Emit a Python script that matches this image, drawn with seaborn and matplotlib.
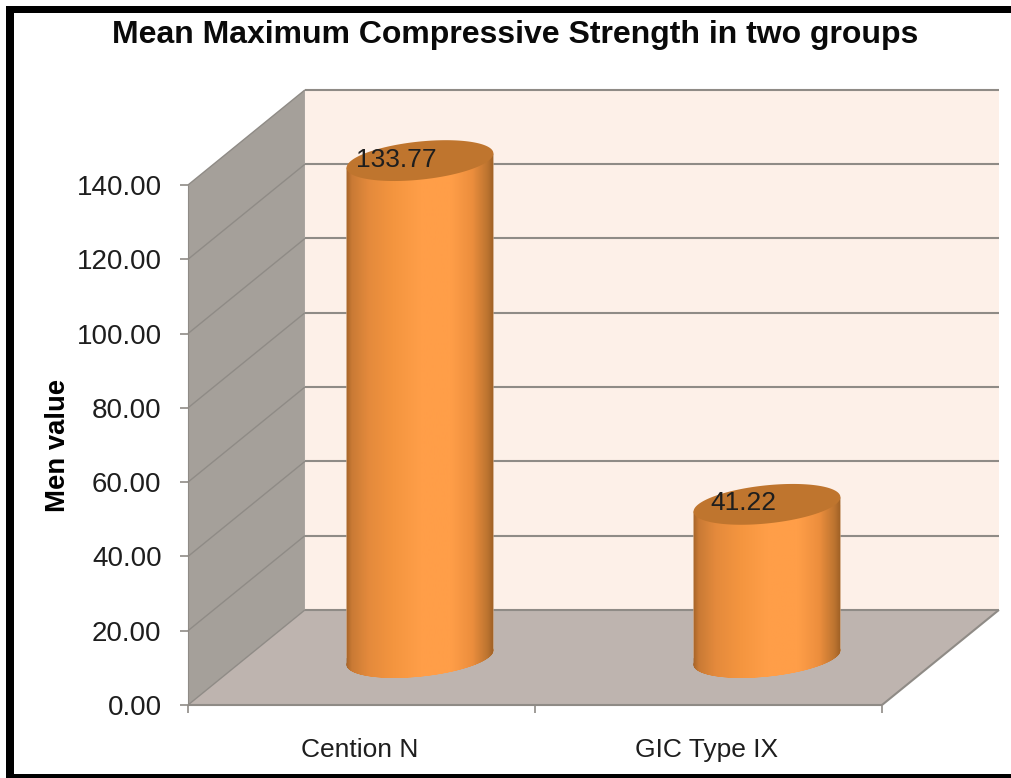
import numpy as np
import pandas as pd
import matplotlib
matplotlib.use("Agg")
import matplotlib.pyplot as plt
from matplotlib.colors import LinearSegmentedColormap
from matplotlib.patches import Polygon, Rectangle
from matplotlib.path import Path
from matplotlib.transforms import Affine2D, IdentityTransform
import seaborn as sns

# Chart content
groups = ["Cention N", "GIC Type IX"]
mean_strength = [133.77, 41.22]
value_labels = ["133.77", "41.22"]
y_ticks = [0, 20, 40, 60, 80, 100, 120, 140]
title_text = "Mean Maximum Compressive Strength in two groups"
y_label_text = "Men value"

# Colours
BACK_WALL = "#FDF0E8"
SIDE_WALL = "#A5A09A"
FLOOR = "#BEB4AF"
GRID = "#8F8B86"
CAP = "#BF752E"
TEXT = "#1E1E1E"
BODY_STOPS = ["#9A5C24", "#C97A35", "#E48A3C", "#F4953F", "#FF9E48", "#FF9E48",
              "#EC8E3D", "#BC7430", "#8F551E"]
BODY_POS = [0.0, 0.05, 0.16, 0.32, 0.5, 0.7, 0.84, 0.94, 1.0]

# Layout of the pseudo-3D box
DEPTH_X = 0.337     # category units from front edge to back wall
DEPTH_Y = 25.6      # value units from front edge to back wall
BAR_WIDTH = 0.4236
TILT = np.deg2rad(6)
ELL_A, ELL_B = 73.8, 19.0

sns.set_theme(style="white")
plt.rcParams["font.family"] = ["Liberation Sans", "DejaVu Sans"]

W, H = 1011, 778
fig = plt.figure(figsize=(W / 100, H / 100), dpi=100, facecolor="white")
ax = fig.add_axes([188 / W, (H - 705) / H, 694 / W, 520 / H])

frame = [Rectangle((5.5 / W, (H - 778) / H), 8.5 / W, 772 / H),
         Rectangle((5.5 / W, (H - 13) / H), (W - 5.5) / W, 7 / H),
         Rectangle((5.5 / W, 0), (W - 5.5) / W, 4 / H)]
for rect in frame:
    rect.set(transform=fig.transFigure, facecolor="black", edgecolor="none")
    fig.add_artist(rect)

frame_df = pd.DataFrame({"group": groups, "value": mean_strength})
sns.barplot(data=frame_df, x="group", y="value", width=BAR_WIDTH, color="#F4953F",
            errorbar=None, saturation=1, ax=ax, zorder=4)

x0, x1 = -0.5, 1.5
y0, y1 = min(y_ticks), max(y_ticks)
ax.set_xlim(x0, x1)
ax.set_ylim(y0, y1)
ax.patch.set_visible(False)
sns.despine(ax=ax, top=True, right=True, left=True, bottom=True)

# Box walls and floor
ax.add_patch(Polygon([(x0 + DEPTH_X, y0 + DEPTH_Y), (x1 + DEPTH_X, y0 + DEPTH_Y),
                      (x1 + DEPTH_X, y1 + DEPTH_Y), (x0 + DEPTH_X, y1 + DEPTH_Y)],
                     facecolor=BACK_WALL, edgecolor="none", clip_on=False, zorder=1))
ax.add_patch(Polygon([(x0, y0), (x0 + DEPTH_X, y0 + DEPTH_Y),
                      (x0 + DEPTH_X, y1 + DEPTH_Y), (x0, y1)],
                     facecolor=SIDE_WALL, edgecolor="none", clip_on=False, zorder=1))
ax.add_patch(Polygon([(x0, y0), (x1, y0), (x1 + DEPTH_X, y0 + DEPTH_Y),
                      (x0 + DEPTH_X, y0 + DEPTH_Y)],
                     facecolor=FLOOR, edgecolor="none", clip_on=False, zorder=1))

# Gridlines run along the back wall and down the side wall
line_kw = dict(color=GRID, clip_on=False, zorder=2, solid_capstyle="butt")
for tick in y_ticks:
    ax.plot([x0 + DEPTH_X, x1 + DEPTH_X], [tick + DEPTH_Y] * 2, lw=1.5, **line_kw)
    ax.plot([x0, x0 + DEPTH_X], [tick, tick + DEPTH_Y], lw=1.0, **line_kw)
ax.plot([x1, x1 + DEPTH_X], [y0, y0 + DEPTH_Y], lw=1.5, **line_kw)
ax.plot([x0, x1], [y0, y0], lw=1.5, **line_kw)
ax.plot([x0, x0], [y0, y1], lw=0.8, **line_kw)


def ellipse_points(center, n=180):
    t = np.linspace(0, 2 * np.pi, n, endpoint=False)
    ex = ELL_A * np.cos(t) * np.cos(TILT) - ELL_B * np.sin(t) * np.sin(TILT)
    ey = ELL_A * np.cos(t) * np.sin(TILT) + ELL_B * np.sin(t) * np.cos(TILT)
    return np.column_stack([center[0] + ex, center[1] + ey])


body_cmap = LinearSegmentedColormap.from_list("cyl", list(zip(BODY_POS, BODY_STOPS)))
shift = Affine2D().translate(*(ax.transData.transform((DEPTH_X / 2, DEPTH_Y / 2))
                               - ax.transData.transform((0, 0))))
gradient = np.linspace(0, 1, 256)[None, :]
edge_pad = 0.008    # image overhang so its faded border stays outside the clip

for bar, value, label in zip(ax.patches, mean_strength, value_labels):
    bar.set_transform(ax.transData + shift)
    left, right = bar.get_x(), bar.get_x() + bar.get_width()
    mid = (left + right) / 2
    top_c = ax.transData.transform((mid + DEPTH_X / 2, value + DEPTH_Y / 2))
    base_c = ax.transData.transform((mid + DEPTH_X / 2, DEPTH_Y / 2))

    top_pts = ellipse_points(top_c)
    base_pts = ellipse_points(base_c)
    i_l, i_r = base_pts[:, 0].argmin(), base_pts[:, 0].argmax()
    # lower half of the base ellipse, left extreme round to right extreme
    idx = np.arange(i_l, i_r + len(base_pts) + 1) % len(base_pts)
    arc = base_pts[idx]
    body = np.vstack([top_pts[i_r], top_c, top_pts[i_l], arc, top_pts[i_r]])
    body_path = Path(body, closed=True)

    bar.set_clip_box(fig.bbox)
    bar.set_clip_path(body_path, IdentityTransform())

    im = ax.imshow(gradient, cmap=body_cmap, aspect="auto", interpolation="bilinear",
                   extent=(left - edge_pad, right + edge_pad, -10, value + 10), zorder=5,
                   transform=ax.transData + shift)
    im.set_clip_box(fig.bbox)
    im.set_clip_path(body_path, IdentityTransform())

    cap = Polygon(top_pts, closed=True, facecolor=CAP, edgecolor="none",
                  transform=IdentityTransform(), clip_on=False, zorder=6)
    ax.add_patch(cap)

    ax.annotate(label, xy=(mid + DEPTH_X / 2, value + DEPTH_Y / 2), xytext=(-23.5, 1),
                textcoords="offset pixels", ha="center", va="center",
                fontsize=19, color=TEXT, zorder=7, annotation_clip=False)

ax.set_xlim(x0, x1)
ax.set_ylim(y0, y1)

# Axis ticks: separators between categories, labels centred on them
ax.set_xticks([-0.5, 0.5, 1.5], labels=["", "", ""])
ax.set_xticks([0, 1], labels=groups, minor=True)
ax.tick_params(axis="x", which="major", length=6, width=1.2, color=GRID, bottom=True)
ax.tick_params(axis="x", which="minor", length=0, pad=24, labelsize=19, labelcolor=TEXT)
for lab in ax.get_xticklabels(minor=True):
    lab.set_transform(lab.get_transform() + Affine2D().translate(-2, 0))
ax.set_yticks(y_ticks, labels=[f"{t:.2f}" for t in y_ticks])
ax.tick_params(axis="y", length=6, width=1.2, color=GRID, left=True, pad=13,
               labelsize=20, labelcolor=TEXT)
ax.set_xlabel("")
ax.set_ylabel(y_label_text, fontsize=19.8, fontweight="bold", color="black", labelpad=4)

fig.text(515 / W, 1 - 35 / H, title_text, ha="center", va="center",
         fontsize=23, fontweight="bold", color="#0A0A0A")

fig.savefig("out.png", dpi=100)
